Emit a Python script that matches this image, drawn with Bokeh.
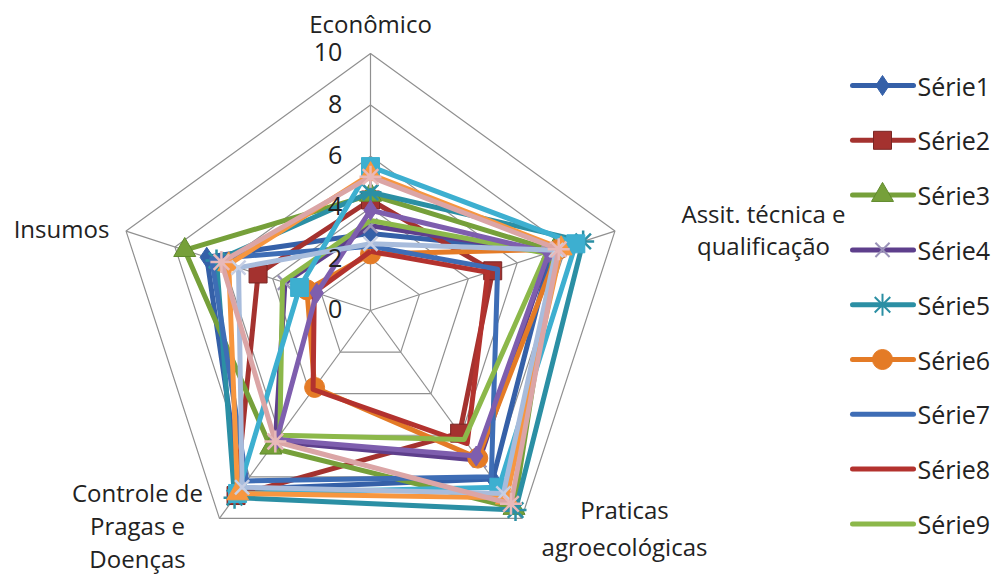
import math
from bokeh.plotting import figure
from bokeh.models import Range1d
from bokeh.core.properties import value
from bokeh.embed import file_html
from bokeh.resources import INLINE

# ---------------- data ----------------
categories = ["Econômico", "Assit. técnica e\nqualificação", "Praticas\nagroecológicas",
              "Controle de\nPragas e\nDoenças", "Insumos"]
tick_values = [0, 2, 4, 6, 8, 10]
tick_labels = ["0", "2", "4", "6", "8", "10"]
series_names = ["Série1", "Série2", "Série3", "Série4", "Série5", "Série6", "Série7",
                "Série8", "Série9", "Série10", "Série11", "Série12", "Série13", "Série14"]
# values in order: Econômico, Assit., Praticas, Controle, Insumos
s1 = [3.0, 7.4, 8.1, 8.6, 6.7]
s2 = [4.3, 5.0, 5.9, 8.9, 4.6]
s3 = [4.5, 7.5, 9.5, 6.6, 7.6]
s4 = [3.3, 7.3, 7.2, 6.3, 3.5]
s5 = [4.6, 8.7, 9.6, 9.0, 6.3]
s6 = [2.2, 7.7, 7.1, 3.7, 2.6]
s7 = [2.5, 5.2, 8.0, 8.2, 6.5]
s8 = [2.3, 4.8, 6.4, 3.8, 2.3]
s9 = [3.5, 7.2, 6.2, 6.0, 3.6]
s10 = [3.9, 7.3, 7.0, 6.2, 2.2]
s11 = [5.6, 8.4, 8.5, 8.8, 2.9]
s12 = [5.3, 7.8, 9.0, 8.8, 5.8]
s13 = [2.6, 7.6, 8.8, 8.5, 5.4]
s14 = [5.2, 7.7, 9.3, 6.3, 6.1]
series_values = [s1, s2, s3, s4, s5, s6, s7, s8, s9, s10, s11, s12, s13, s14]

colors = ["#3560A8", "#A4322F", "#76A03A", "#5E3F8C", "#2B8FA4", "#E47B26", "#3E6DB5",
          "#B3322E", "#8CB84A", "#7E5EAE", "#3DAFD0", "#F7963F", "#A8BCDC", "#DBA5A6"]
markers = ["diamond", "square", "triangle", "x", "asterisk", "circle", "dash_vert",
           None, None, "diamond", "square", "triangle", "x", "asterisk"]
marker_sizes = [20, 18, 22, 20, 22, 20, 20, 0, 0, 20, 18, 22, 20, 22]
marker_line_colors = ["#3560A8", "#7A2624", "#5F8A2C", "#9A92B8", "#2B8FA4", "#E47B26", "#3E6DB5",
                      None, None, "#7E5EAE", "#3DAFD0", "#F7963F", "#C7CFE4", "#E8B9B9"]

# ---------------- geometry (1 data unit == one value unit) ----------------
SCALE = 25.7           # pixels per value unit
CX, CY = 370, 310      # picture pixel of the chart centre
W, H = 992, 581


def px(x, y):
    """picture pixel -> data coordinates (for placing labels)"""
    return (x - CX) / SCALE, (CY - y) / SCALE


angles = [math.pi / 2 - i * 2 * math.pi / 5 for i in range(5)]


def to_xy(vals):
    xs = [v * math.cos(a) for v, a in zip(vals, angles)]
    ys = [v * math.sin(a) for v, a in zip(vals, angles)]
    return xs, ys


x0, y0 = px(0, H)
x1, y1 = px(W, 0)

p = figure(width=W, height=H, output_backend="svg", toolbar_location=None,
           x_range=Range1d(x0, x1), y_range=Range1d(y0, y1),
           min_border=0, outline_line_color=None)
p.xaxis.visible = False
p.yaxis.visible = False
p.grid.visible = False
p.background_fill_color = "white"
p.border_fill_color = "white"

FONT = value("Open Sans")

# grid pentagons
for t in tick_values[1:]:
    gx, gy = to_xy([t] * 5)
    p.line(gx + [gx[0]], gy + [gy[0]], line_color="#909090", line_width=1.2)
# spokes
for a in angles:
    p.line([0, 10 * math.cos(a)], [0, 10 * math.sin(a)], line_color="#909090", line_width=1.2)

# series
for vals, col, mk, ms, mlc in zip(series_values, colors, markers, marker_sizes, marker_line_colors):
    xs, ys = to_xy(vals)
    p.line(xs + [xs[0]], ys + [ys[0]], line_color=col, line_width=5, line_join="round")
    if mk:
        if mk in ("x", "asterisk", "dash_vert"):
            p.scatter(xs, ys, marker=mk, size=ms, line_color=mlc, line_width=2.5)
        else:
            p.scatter(xs, ys, marker=mk, size=ms, fill_color=col, line_color=mlc, line_width=1)

# radial tick labels
tx = [(-1.1)] * len(tick_values)
p.text(x=tx, y=[v + 0.05 for v in tick_values], text=tick_labels, text_align="right",
       text_baseline="middle", text_font=FONT, text_font_size="25px", text_color="#222222")

# category labels
label_pos = [(370, 23, 32), (763, 229, 32), (624, 527, 37),
             (137, 525, 33), (61, 228, 32)]
for cat, (lx, ly, line_h) in zip(categories, label_pos):
    lines = cat.split("\n")
    n = len(lines)
    for k, ln in enumerate(lines):
        yy = ly + (k - (n - 1) / 2) * line_h
        dx, dy = px(lx, yy)
        p.text(x=[dx], y=[dy], text=[ln], text_align="center", text_baseline="middle",
               text_font=FONT, text_font_size="24px", text_color="#222222")

# legend (first nine series, as in the original)
for i in range(9):
    ly = 85 + i * 54.8
    lxa, lya = px(852, ly)
    lxb, _ = px(913, ly)
    lxm, _ = px(882, ly)
    p.line([lxa, lxb], [lya, lya], line_color=colors[i], line_width=5, line_cap="round")
    if markers[i]:
        if markers[i] in ("x", "asterisk", "dash_vert"):
            p.scatter([lxm], [lya], marker=markers[i], size=marker_sizes[i],
                      line_color=marker_line_colors[i], line_width=2)
        else:
            p.scatter([lxm], [lya], marker=markers[i], size=marker_sizes[i],
                      fill_color=colors[i], line_color=marker_line_colors[i], line_width=1)
    tx_, ty_ = px(917, ly)
    p.text(x=[tx_], y=[ty_], text=[series_names[i]], text_align="left", text_baseline="middle",
           text_font=FONT, text_font_size="25px", text_color="#222222")

open("out.html", "w").write(file_html(p, INLINE))
